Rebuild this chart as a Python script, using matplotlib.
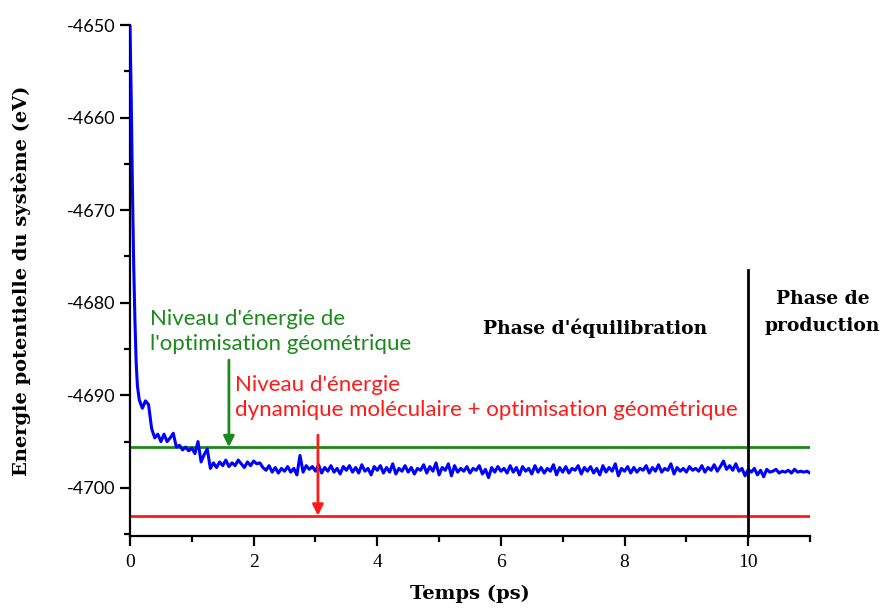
import numpy as np
import matplotlib
matplotlib.use("Agg")
import matplotlib.pyplot as plt
from matplotlib.ticker import MultipleLocator

plt.rcParams["axes.unicode_minus"] = False

# ---------------- data ----------------
t_early = [0.0, 0.02, 0.04, 0.06, 0.08, 0.10, 0.12]
e_early = [-4650.0, -4658.0, -4668.0, -4676.0, -4682.0, -4686.5, -4689.0]

# energies sampled every 0.05 ps from 0.15 to 11.00 ps
e_rest = [
    -4690.5, -4691.4, -4690.6, -4691.0, -4693.6, -4694.6, -4694.2, -4695.0, -4694.2, -4695.0,
    -4694.6, -4694.1, -4695.6, -4695.4, -4695.9, -4695.6, -4696.0, -4695.7, -4696.3, -4695.0,
    -4697.2, -4696.4, -4695.8, -4697.9, -4697.3, -4697.8, -4697.2, -4697.6, -4697.0, -4697.7,
    -4697.3, -4697.6, -4697.0, -4697.4, -4697.8, -4697.2, -4697.6, -4697.1, -4697.4, -4697.3,
    -4697.8, -4698.1, -4697.6, -4698.3, -4697.8, -4698.4, -4697.9, -4698.2, -4697.7, -4698.3,
    -4697.9, -4698.6, -4696.5, -4698.3, -4697.6, -4698.0, -4697.7, -4698.2,
    -4697.5, -4698.4, -4697.8, -4698.2, -4697.6, -4698.3, -4697.9, -4698.5, -4697.7, -4698.1,
    -4697.6, -4698.3, -4697.8, -4698.4, -4697.5, -4698.2, -4697.9, -4698.6, -4697.7, -4698.1,
    -4697.6, -4698.4, -4697.8, -4698.3, -4697.4, -4698.5, -4697.9, -4698.2, -4697.6, -4698.3,
    -4697.8, -4698.5, -4697.9, -4698.1, -4697.5, -4698.4, -4697.7, -4698.2, -4697.3, -4698.6,
    -4697.8, -4698.1, -4697.4, -4698.7, -4697.6, -4698.3, -4697.9, -4698.2, -4697.7, -4698.4,
    -4697.9, -4698.1, -4697.6, -4698.5, -4698.0, -4698.9, -4697.8, -4698.3, -4697.7, -4698.2,
    -4697.9, -4698.4, -4697.6, -4698.3, -4697.8, -4698.6, -4697.7, -4698.2, -4697.9, -4698.5,
    -4697.6, -4698.3, -4697.8, -4698.4, -4697.9, -4698.2, -4697.5, -4698.6, -4697.8, -4698.3,
    -4697.7, -4698.4, -4697.9, -4698.1, -4697.6, -4698.5, -4697.8, -4698.2, -4697.7, -4698.4,
    -4697.9, -4698.6, -4697.6, -4698.3, -4697.8, -4698.2, -4697.4, -4698.7, -4697.9, -4698.2,
    -4697.7, -4698.4, -4697.8, -4698.3, -4697.9, -4698.1, -4697.6, -4698.4, -4697.8, -4698.2,
    -4697.5, -4698.3, -4697.9, -4698.1, -4697.4, -4698.5, -4697.8, -4698.2, -4697.9, -4698.3,
    -4697.7, -4698.1, -4697.9, -4698.2, -4697.6, -4698.3, -4697.8, -4698.1, -4697.5, -4698.2,
    -4697.7, -4697.1, -4698.0, -4697.6, -4698.1, -4697.4, -4698.2, -4697.9, -4698.7, -4698.0,
    -4698.3, -4697.9, -4698.6, -4698.1, -4698.8, -4698.0, -4698.3, -4698.2, -4698.0, -4698.4,
    -4698.2, -4698.3, -4698.1, -4698.4, -4698.0, -4698.3, -4698.2, -4698.3, -4698.2, -4698.4,
]
t_rest = np.linspace(0.15, 11.0, len(e_rest))

time = np.concatenate([t_early, t_rest])
energy = np.concatenate([e_early, e_rest])

level_opt = -4695.6      # niveau optimisation géométrique
level_md_opt = -4703.0   # niveau dynamique + optimisation
t_phase_change = 10.0
green_arrow_x, green_arrow_top = 1.6, -4686.2
red_arrow_x, red_arrow_top = 3.04, -4694.3

# ---------------- figure ----------------
fig = plt.figure(figsize=(8.85, 6.10), dpi=100)
ax = fig.add_axes([130/885, 74/610, 680/885, 511/610])

GREEN = "#1b8a1b"
RED = "#ff1a1a"

ax.plot(time, energy, color="#0000ff", lw=2.2, zorder=3)
ax.axhline(level_opt, color=GREEN, lw=2.0, zorder=2)
ax.axhline(level_md_opt, color=RED, lw=2.0, zorder=2)

ymin, ymax = -4705.2, -4650.0
ax.set_xlim(0, 11)
ax.set_ylim(ymin, ymax)

ax.plot([t_phase_change, t_phase_change], [-4676.5, ymin], color="black", lw=2.0,
        zorder=4, clip_on=False)

ax.annotate("", xy=(green_arrow_x, level_opt), xytext=(green_arrow_x, green_arrow_top),
            arrowprops=dict(arrowstyle="-|>", color=GREEN, lw=2, mutation_scale=16,
                            shrinkA=0, shrinkB=0), zorder=5)
ax.annotate("", xy=(red_arrow_x, level_md_opt), xytext=(red_arrow_x, red_arrow_top),
            arrowprops=dict(arrowstyle="-|>", color=RED, lw=2, mutation_scale=16,
                            shrinkA=0, shrinkB=0), zorder=5)

sans = "Lato"
ax.text(0.32, -4683.1, "Niveau d'énergie de\nl'optimisation géométrique", color=GREEN,
        fontsize=16, family=sans, ha="left", va="center", linespacing=1.3)
ax.text(1.7, -4690.2, "Niveau d'énergie\ndynamique moléculaire + optimisation géométrique",
        color=RED, fontsize=16, family=sans, ha="left", va="center", linespacing=1.3)

serif = "DejaVu Serif"
ax.text(7.53, -4682.8, "Phase d'équilibration", fontsize=13.5, fontweight="bold",
        family=serif, ha="center", va="center")
ax.text(11.2, -4681.1, "Phase de\nproduction", fontsize=13.5, fontweight="bold",
        family=serif, ha="center", va="center", linespacing=1.65, clip_on=False)

# axes styling
for s in ["top", "right"]:
    ax.spines[s].set_visible(False)
for s in ["left", "bottom"]:
    ax.spines[s].set_linewidth(1.6)

ax.xaxis.set_major_locator(MultipleLocator(2))
ax.xaxis.set_minor_locator(MultipleLocator(1))
ax.yaxis.set_major_locator(MultipleLocator(10))
ax.yaxis.set_minor_locator(MultipleLocator(5))
ax.tick_params(which="major", direction="out", length=7, width=1.6, labelsize=13)
ax.tick_params(which="minor", direction="out", length=4, width=1.6)
ax.tick_params(axis="x", pad=6, labelsize=14)
for lab in ax.get_yticklabels():
    lab.set_family(sans)
for lab in ax.get_xticklabels():
    lab.set_family("Liberation Serif")

ax.set_xlabel("Temps (ps)", fontsize=14, fontweight="bold", family=serif, labelpad=10)
ax.set_ylabel("Energie potentielle du système (eV)", fontsize=14, fontweight="bold",
              family=serif, labelpad=26)

fig.savefig("out.png", dpi=100, facecolor="white")
